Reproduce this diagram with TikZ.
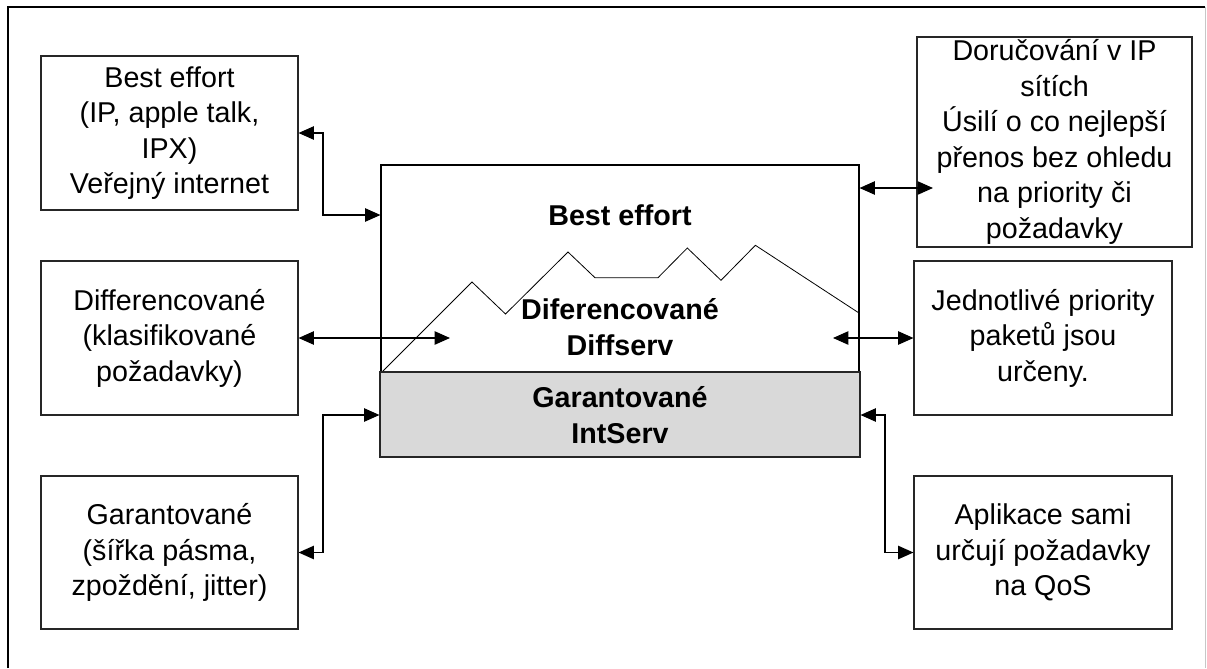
\documentclass[tikz,border=0pt]{standalone}
\usepackage{fontspec}
\setmainfont{Liberation Sans}
\usetikzlibrary{arrows.meta,calc}
\begin{document}
\begin{tikzpicture}[x=0.75pt,y=-0.75pt,
  infobox/.style 2 args={draw=black!85, line width=0.8pt, minimum width=#1,
    minimum height=#2, inner sep=0pt, align=center,
    font=\fontsize{21.5}{26.6}\selectfont},
  boldtxt/.style={inner sep=0pt, align=center,
    font=\fontsize{21.5}{27}\selectfont\bfseries},
  link/.style={line width=1pt, draw=black,
    {Triangle[length=11.5pt,width=10pt]}-{Triangle[length=11.5pt,width=10pt]}}
]
\useasboundingbox (0,0) rectangle (1207,668);

% outer frame
\draw[line width=1.5pt] (8,668) -- (8,7) -- (1205,7);
\draw[line width=0.75pt, black!22] (1205,7) -- (1205,668);

% central service stack
\node[draw=black, line width=0.8pt, fill=white, minimum width=358.5pt,
      minimum height=155.25pt, inner sep=0pt] (wbox) at (620,268.5) {};
\draw[line width=0.6pt] (382,372) -- (472,282) -- (505.5,314) -- (568,252)
  -- (595,277.7) -- (658,277.7) -- (687.3,248) -- (721,280.3) -- (755.4,245.3)
  -- (859,313);
\node[draw=black!85, line width=0.8pt, fill=black!15, minimum width=360pt,
      minimum height=63.75pt, inner sep=0pt] (gbox) at (620,414.5) {};

\node[boldtxt] (tbe) at (620,215) {Best effort};
\node[boldtxt] (tdiff) at (620,327) {Diferencované\\Diffserv};
\node[boldtxt] (tgar) at (620,415) {Garantované\\IntServ};

% side descriptions
\node[infobox={192.75pt}{115.5pt}] (b1) at (169.5,133)
  {Best effort\\(IP, apple talk,\\IPX)\\Veřejný internet};
\node[infobox={192.75pt}{115.5pt}] (b2) at (169.5,338)
  {Differencované\\(klasifikované\\požadavky)};
\node[infobox={192.75pt}{114.75pt}] (b3) at (169.5,552.5)
  {Garantované\\(šířka pásma,\\zpoždění, jitter)};
\node[infobox={206.25pt}{157.5pt}] (b4) at (1054.5,142)
  {Doručování v IP\\sítích\\Úsilí o co nejlepší\\přenos bez ohledu\\na priority či\\požadavky};
\node[infobox={193.5pt}{115.5pt}] (b5) at (1043,338)
  {Jednotlivé priority\\paketů jsou\\určeny.};
\node[infobox={193.5pt}{114.75pt}] (b6) at (1043,552.5)
  {Aplikace sami\\určují požadavky\\na QoS};

% connectors
\coordinate (k1) at (323,215);
\coordinate (k3) at (323,415);
\coordinate (k6) at (885,415);
\coordinate (d1) at (450,338);
\coordinate (d2) at (833,338);
\coordinate (r1) at (933,188);

\draw[link] (b1.east) -| (k1) -- (k1 -| wbox.west);
\draw[link] (b2.east) -- (d1);
\draw[link] (b3.east) -| (k3) -- (k3 -| gbox.west);
\draw[link] (r1 -| wbox.east) -- (r1);
\draw[link] (d2) -- (b5.west);
\draw[link] (k6 -| gbox.east) -- (k6) |- (b6.west);
\end{tikzpicture}
\end{document}
